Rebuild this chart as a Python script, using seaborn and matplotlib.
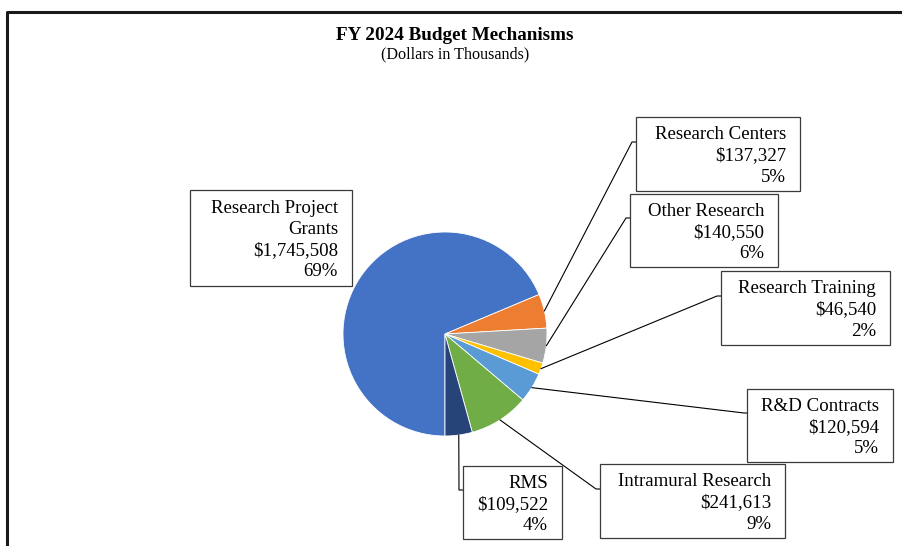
import numpy as np
import matplotlib.pyplot as plt
import seaborn as sns
from matplotlib.patches import Rectangle

# Data (dollars in thousands)
categories = ["Research Project\nGrants", "Research Centers", "Other Research",
              "Research Training", "R&D Contracts", "Intramural Research", "RMS"]
amounts = [1745508, 137327, 140550, 46540, 120594, 241613, 109522]
percent_labels = ["69%", "5%", "6%", "2%", "5%", "9%", "4%"]
colors = ["#4472C4", "#ED7D31", "#A5A5A5", "#FFC000", "#5B9BD5", "#70AD47", "#264478"]

sns.set_theme(style="white")
plt.rcParams['font.family'] = ['Liberation Serif', 'DejaVu Serif']
plt.rcParams['text.color'] = 'black'

W, H = 902, 546
CX, CY, R = 445, 334, 102


def px(x, y):
    # pixel position (y down) -> pie data coordinates
    return (x - CX) / R, (CY - y) / R


fig = plt.figure(figsize=(W / 100, H / 100), dpi=100)
ax = fig.add_axes([0, 0, 1, 1])
wedges, _ = ax.pie(amounts, colors=colors, startangle=270, counterclock=False,
                   radius=1, wedgeprops=dict(edgecolor='white', linewidth=0.6))
ax.set_xlim(-CX / R, (W - CX) / R)
ax.set_ylim(-(H - CY) / R, CY / R)
ax.set_aspect('equal')
ax.axis('off')

# label boxes: left, top, right, bottom, elbow of leader line (pixels)
boxes = [
    (190, 190, 352, 286, None),
    (636, 117, 800, 191, (632, 142)),
    (630, 194, 778, 267, (626, 218)),
    (721, 271, 890, 345, (717, 296)),
    (747, 389, 893, 462, (744, 413)),
    (600, 464, 785, 538, (596, 489)),
    (463, 466, 562, 539, (459, 490)),
]

for w, cat, amt, pct, (l, t, r, b, elbow) in zip(wedges, categories, amounts,
                                                  percent_labels, boxes):
    x0, y0 = px(l, b)
    x1, y1 = px(r, t)
    ax.add_patch(Rectangle((x0, y0), x1 - x0, y1 - y0, facecolor='white',
                           edgecolor='#3a3a3a', linewidth=0.9, zorder=3))
    tx, ty = px(r - 14, (t + b) / 2 + 2)
    ax.text(tx, ty, f"{cat}\n${amt:,}\n{pct}", ha='right', va='center',
            fontsize=13.6, linespacing=1.32, color='black', zorder=4)
    if elbow is not None:
        ang = np.deg2rad((w.theta1 + w.theta2) / 2)
        ex, ey = px(*elbow)
        bx, _ = px(l, elbow[1])
        ax.plot([np.cos(ang), ex, bx], [np.sin(ang), ey, ey], color='black',
                linewidth=0.8, zorder=2, clip_on=False)

# title
ax.text(*px(455, 35), "FY 2024 Budget Mechanisms", ha='center', va='center',
        fontsize=13.8, fontweight='bold', color='black')
ax.text(*px(455, 54), "(Dollars in Thousands)", ha='center', va='center',
        fontsize=11.6, color='black')

# outer frame (left and top edges)
fx, fy = zip(px(7, 546), px(7, 12), px(902, 12))
ax.plot(fx, fy, color='#1a1a1a', linewidth=2.2, clip_on=False)

fig.savefig('out.png', dpi=100)
